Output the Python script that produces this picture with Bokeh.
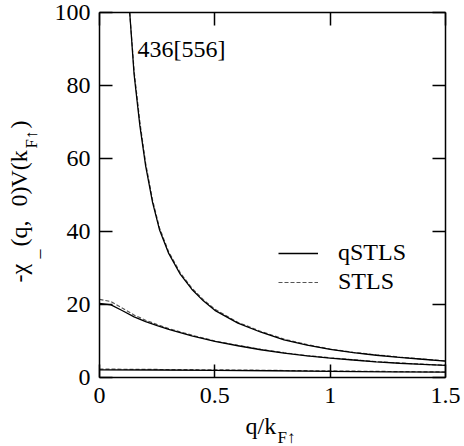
import math
from bokeh.plotting import figure
from bokeh.models import Range1d, LinearAxis, FixedTicker, Label, Legend, LegendItem
from bokeh.embed import file_html
from bokeh.resources import INLINE

# ---------------- data ----------------
q_top = [0.131, 0.15, 0.175, 0.2, 0.23, 0.26, 0.3, 0.35, 0.4, 0.45, 0.5, 0.6, 0.7,
         0.8, 0.9, 1.0, 1.1, 1.2, 1.3, 1.4, 1.5]
top_qstls = [100, 83, 69, 58, 48, 40.5, 34, 28.3, 24.2, 21.0, 18.4, 14.9, 12.4,
             10.3, 8.9, 7.7, 6.8, 6.1, 5.5, 5.0, 4.5]
top_stls = [100, 84, 70, 58.7, 48.6, 41, 34.4, 28.7, 24.5, 21.3, 18.7, 15.1, 12.6,
            10.5, 9.0, 7.8, 6.9, 6.2, 5.6, 5.05, 4.55]

q_mid = [0, 0.05, 0.1, 0.15, 0.2, 0.25, 0.3, 0.4, 0.5, 0.6, 0.7, 0.8, 0.9, 1.0,
         1.1, 1.2, 1.3, 1.4, 1.5]
mid_qstls = [20.3, 19.9, 18.3, 16.6, 15.3, 14.2, 13.2, 11.4, 9.9, 8.7, 7.6, 6.7, 5.9,
             5.3, 4.8, 4.3, 3.9, 3.6, 3.3]
mid_stls = [21.4, 20.8, 19.0, 17.1, 15.7, 14.5, 13.4, 11.6, 10.0, 8.8, 7.7, 6.8, 6.0,
            5.4, 4.85, 4.35, 3.95, 3.65, 3.35]

q_bot = [0, 0.25, 0.5, 0.75, 1.0, 1.25, 1.5]
bot_qstls = [2.1, 2.05, 1.95, 1.85, 1.7, 1.55, 1.45]
bot_stls = [2.3, 2.2, 2.1, 1.95, 1.8, 1.65, 1.5]

x_ticks = [0, 0.5, 1, 1.5]
x_tick_labels = ["0", "0.5", "1", "1.5"]
y_ticks = [0, 20, 40, 60, 80, 100]
y_tick_labels = ["0", "20", "40", "60", "80", "100"]

series_names = ["qSTLS", "STLS"]
annotation = "436[556]"

# ---------------- layout (pixel positions on the canvas) ----------------
W, H = 464, 446
FL, FR, FT, FB = 99, 445, 12, 377          # where the drawn box lies
XMIN, XMAX, YMIN, YMAX = 0, 1.5, 0, 100
SX = (FR - FL) / (XMAX - XMIN)             # px per data unit
SY = (FB - FT) / (YMAX - YMIN)
FONT = "Liberation Serif"
FS_MAIN, FS_SUB = 24, 17
BASE_SHIFT = 0.42                           # em, label anchor vs. drawn baseline


def dx(cx):  # canvas x -> data x
    return XMIN + (cx - FL) / SX


def dy(cy):  # canvas y -> data y
    return YMIN + (FB - cy) / SY


p = figure(width=W, height=H, output_backend="svg", toolbar_location=None,
           x_range=Range1d(dx(0), dx(W)), y_range=Range1d(dy(H), dy(0)),
           x_axis_location=None, y_axis_location=None,
           min_border_left=0, min_border_right=0, min_border_top=0, min_border_bottom=0,
           background_fill_color="white", border_fill_color="white")
p.grid.visible = False
p.outline_line_color = None


def make_axis(ticks, labels, loc, bounds, show_labels, standoff):
    ax = LinearAxis(fixed_location=loc, bounds=bounds)
    ax.ticker = FixedTicker(ticks=ticks)
    ax.major_label_overrides = {t: l for t, l in zip(ticks, labels)}
    ax.minor_tick_line_color = None
    ax.major_tick_in = 13
    ax.major_tick_out = 0
    ax.major_tick_line_width = 1.5
    ax.major_tick_line_color = "black"
    ax.axis_line_color = "black"
    ax.axis_line_width = 1.5
    ax.axis_label = None
    ax.major_label_standoff = standoff
    ax.major_label_text_font = FONT
    ax.major_label_text_font_size = f"{FS_MAIN}px"
    ax.major_label_text_color = "black" if show_labels else None
    return ax


p.add_layout(make_axis(x_ticks, x_tick_labels, YMIN, (XMIN, XMAX), True, 10), "below")
p.add_layout(make_axis(y_ticks, y_tick_labels, XMIN, (YMIN, YMAX), True, 9), "left")
p.add_layout(make_axis(x_ticks, x_tick_labels, YMAX, (XMIN, XMAX), False, 0), "above")
p.add_layout(make_axis(y_ticks, y_tick_labels, XMAX, (YMIN, YMAX), False, 0), "right")

# ---------------- curves ----------------
solid = dict(line_color="black", line_width=1.3)
dashed = dict(line_color="#555555", line_width=1.2, line_dash="4 2")

d1 = p.line(q_top, top_stls, **dashed)
s1 = p.line(q_top, top_qstls, **solid)
p.line(q_mid, mid_stls, **dashed)
p.line(q_mid, mid_qstls, **solid)
p.line(q_bot, bot_stls, **dashed)
p.line(q_bot, bot_qstls, **solid)

legend = Legend(items=[LegendItem(label=series_names[0], renderers=[s1]),
                       LegendItem(label=series_names[1], renderers=[d1])],
                location=(278, H - 295), orientation="vertical",
                glyph_width=40, glyph_height=20, label_height=20,
                label_standoff=20, spacing=2, padding=0, margin=0,
                border_line_color=None, background_fill_alpha=0,
                label_text_font=FONT, label_text_font_size=f"{FS_MAIN}px",
                label_text_color="black")
p.add_layout(legend, "center")


def text_at(txt, x_px, base_px, size, rotated=False):
    """Place text so that its drawn baseline lies at base_px (canvas pixels)."""
    shift = BASE_SHIFT * size
    if rotated:
        x, y = dx(base_px - shift), dy(x_px)
    else:
        x, y = dx(x_px), dy(base_px - shift)
    p.add_layout(Label(x=x, y=y, text=txt, angle=math.pi / 2 if rotated else 0,
                       text_font=FONT, text_font_size=f"{size}px", text_color="black",
                       text_align="left", text_baseline="alphabetic"))


# ---------------- annotation ----------------
text_at(annotation, 137, 58.5, FS_MAIN)

# ---------------- y axis label (rotated, pieces with subscripts) ----------------
ylabel_pieces = [
    ("-χ", 282, 29, FS_MAIN),
    ("_", 258, 40, 18),
    ("(q,", 246, 29, FS_MAIN),
    ("0)", 206, 29, FS_MAIN),
    ("V(k", 187, 29, FS_MAIN),
    ("F↑", 148, 38, FS_SUB),
    (")", 128, 29, FS_MAIN),
]
for txt, start, base, size in ylabel_pieces:
    text_at(txt, start, base, size, rotated=True)

# ---------------- x axis label ----------------
text_at("q/k", 245, 436, FS_MAIN)
text_at("F↑", 277, 444, FS_SUB)

open("out.html", "w").write(file_html(p, INLINE))
